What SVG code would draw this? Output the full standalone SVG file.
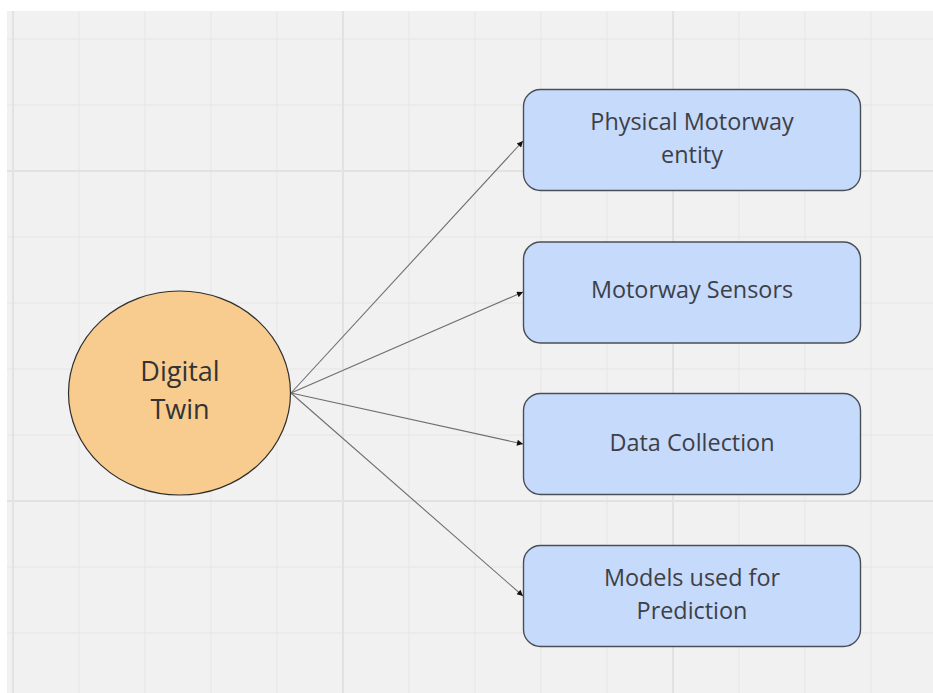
<svg xmlns="http://www.w3.org/2000/svg" width="933" height="693" viewBox="0 0 933 693">
<defs>
<style>
.minor{stroke:#e9e9e9;stroke-width:1.3}
.major{stroke:#e2e2e2;stroke-width:2}
.box{fill:#c6dafb;stroke:#4a4f57;stroke-width:1.4}
.lbl{font-family:"Open Sans","Noto Sans","Liberation Sans",sans-serif;font-size:23.4px;fill:#3d4047;text-anchor:middle}
.big{font-size:27px;fill:#333333}
.conn{stroke:#6e6e6e;stroke-width:1.1;fill:none;marker-end:url(#arr)}
</style>
<marker id="arr" viewBox="0 0 10 10" refX="10" refY="5" markerWidth="9" markerHeight="6" markerUnits="userSpaceOnUse" orient="auto">
<path d="M0,0 L10,5 L0,10 z" fill="#111"/>
</marker>
</defs>
<rect width="933" height="693" fill="#ffffff"/>
<rect x="7" y="11" width="926" height="682" fill="#f1f1f1"/>
<g id="grid">
<g class="minor">
<line x1="79" y1="11" x2="79" y2="693"/>
<line x1="145" y1="11" x2="145" y2="693"/>
<line x1="211" y1="11" x2="211" y2="693"/>
<line x1="277" y1="11" x2="277" y2="693"/>
<line x1="409" y1="11" x2="409" y2="693"/>
<line x1="475" y1="11" x2="475" y2="693"/>
<line x1="541" y1="11" x2="541" y2="693"/>
<line x1="607" y1="11" x2="607" y2="693"/>
<line x1="739" y1="11" x2="739" y2="693"/>
<line x1="805" y1="11" x2="805" y2="693"/>
<line x1="871" y1="11" x2="871" y2="693"/>
<line x1="7" y1="39" x2="933" y2="39"/>
<line x1="7" y1="105" x2="933" y2="105"/>
<line x1="7" y1="237" x2="933" y2="237"/>
<line x1="7" y1="303" x2="933" y2="303"/>
<line x1="7" y1="369" x2="933" y2="369"/>
<line x1="7" y1="435" x2="933" y2="435"/>
<line x1="7" y1="567" x2="933" y2="567"/>
<line x1="7" y1="633" x2="933" y2="633"/>
</g>
<g class="major">
<line x1="13" y1="11" x2="13" y2="693"/>
<line x1="343" y1="11" x2="343" y2="693"/>
<line x1="673" y1="11" x2="673" y2="693"/>
<line x1="7" y1="171" x2="933" y2="171"/>
<line x1="7" y1="501" x2="933" y2="501"/>
</g>
</g>
<g id="connectors">
<line class="conn" x1="291" y1="393" x2="523" y2="141"/>
<line class="conn" x1="291" y1="393" x2="523" y2="292"/>
<line class="conn" x1="291" y1="393" x2="523" y2="444"/>
<line class="conn" x1="291" y1="393" x2="523" y2="596"/>
</g>
<g id="digital-twin">
<ellipse cx="179.5" cy="393" rx="111" ry="102" fill="#f8cc8f" stroke="#2e2e2e" stroke-width="1.2"/>
<text class="lbl big" x="180" y="381">Digital</text>
<text class="lbl big" x="180" y="419">Twin</text>
</g>
<g id="physical-motorway-entity">
<rect class="box" x="523.5" y="89.5" width="337" height="101" rx="17"/>
<text class="lbl" x="692" y="130">Physical Motorway</text>
<text class="lbl" x="692" y="163">entity</text>
</g>
<g id="motorway-sensors">
<rect class="box" x="523.5" y="242" width="337" height="101" rx="17"/>
<text class="lbl" x="692" y="298">Motorway Sensors</text>
</g>
<g id="data-collection">
<rect class="box" x="523.5" y="393.5" width="337" height="101" rx="17"/>
<text class="lbl" x="692" y="450.5">Data Collection</text>
</g>
<g id="models-used-for-prediction">
<rect class="box" x="523.5" y="545.5" width="337" height="101" rx="17"/>
<text class="lbl" x="692" y="585.5">Models used for</text>
<text class="lbl" x="692" y="619">Prediction</text>
</g>
</svg>
